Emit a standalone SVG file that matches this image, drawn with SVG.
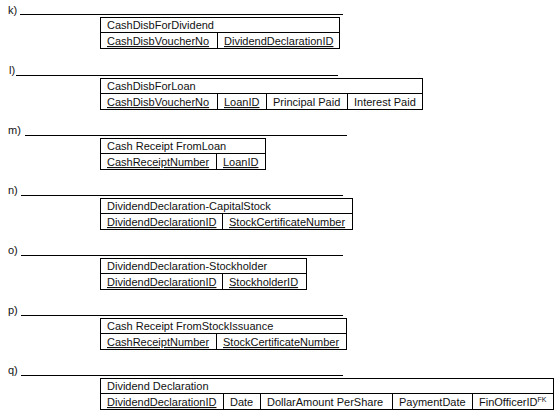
<svg xmlns="http://www.w3.org/2000/svg" width="560" height="419" viewBox="0 0 560 419">
<style>
text{font-family:"Liberation Sans",Arial,sans-serif;font-size:11px;fill:#111}
.lbl{font-size:11px}
.u{text-decoration:underline}
.box{fill:none;stroke:#000;stroke-width:1}
.ln{stroke:#000;stroke-width:1}
.sup{font-size:7px}
</style>
<rect width="560" height="419" fill="#fff"/>
<g id="connectors"></g>

<g id="k">
<text class="lbl" x="8" y="14">k)</text>
<line class="ln" x1="20" y1="14.5" x2="343" y2="14.5"/>
<rect class="box" x="100.5" y="17.5" width="239" height="31"/>
<line class="ln" x1="100.5" y1="32.5" x2="339.5" y2="32.5"/>
<line class="ln" x1="217.5" y1="32.5" x2="217.5" y2="48.5"/>
<text x="107" y="29">CashDisbForDividend</text>
<text class="u" x="107" y="45">CashDisbVoucherNo</text>
<text class="u" x="224" y="45">DividendDeclarationID</text>
</g>

<g id="l">
<text class="lbl" x="9" y="74">l)</text>
<line class="ln" x1="16" y1="75.5" x2="338" y2="75.5"/>
<rect class="box" x="100.5" y="78.5" width="322" height="31"/>
<line class="ln" x1="100.5" y1="93.5" x2="422.5" y2="93.5"/>
<line class="ln" x1="217.5" y1="93.5" x2="217.5" y2="109.5"/>
<line class="ln" x1="266.5" y1="93.5" x2="266.5" y2="109.5"/>
<line class="ln" x1="347.5" y1="93.5" x2="347.5" y2="109.5"/>
<text x="107" y="90">CashDisbForLoan</text>
<text class="u" x="107" y="106">CashDisbVoucherNo</text>
<text class="u" x="224" y="106">LoanID</text>
<text x="273" y="106">Principal Paid</text>
<text x="354" y="106">Interest Paid</text>
</g>

<g id="m">
<text class="lbl" x="8" y="134">m)</text>
<line class="ln" x1="25" y1="135.5" x2="347" y2="135.5"/>
<rect class="box" x="100.5" y="138.5" width="165" height="31"/>
<line class="ln" x1="100.5" y1="153.5" x2="265.5" y2="153.5"/>
<line class="ln" x1="216.5" y1="153.5" x2="216.5" y2="169.5"/>
<text x="107" y="150">Cash Receipt FromLoan</text>
<text class="u" x="107" y="166">CashReceiptNumber</text>
<text class="u" x="223" y="166">LoanID</text>
</g>

<g id="n">
<text class="lbl" x="8" y="194">n)</text>
<line class="ln" x1="21" y1="195.5" x2="343" y2="195.5"/>
<rect class="box" x="100.5" y="198.5" width="252" height="31"/>
<line class="ln" x1="100.5" y1="213.5" x2="352.5" y2="213.5"/>
<line class="ln" x1="222.5" y1="213.5" x2="222.5" y2="229.5"/>
<text x="107" y="210">DividendDeclaration-CapitalStock</text>
<text class="u" x="107" y="226">DividendDeclarationID</text>
<text class="u" x="229" y="226">StockCertificateNumber</text>
</g>

<g id="o">
<text class="lbl" x="8" y="254">o)</text>
<line class="ln" x1="21" y1="255.5" x2="343" y2="255.5"/>
<rect class="box" x="100.5" y="258.5" width="206" height="31"/>
<line class="ln" x1="100.5" y1="273.5" x2="306.5" y2="273.5"/>
<line class="ln" x1="222.5" y1="273.5" x2="222.5" y2="289.5"/>
<text x="107" y="270">DividendDeclaration-Stockholder</text>
<text class="u" x="107" y="286">DividendDeclarationID</text>
<text class="u" x="229" y="286">StockholderID</text>
</g>

<g id="p">
<text class="lbl" x="8" y="314">p)</text>
<line class="ln" x1="21" y1="315.5" x2="343" y2="315.5"/>
<rect class="box" x="100.5" y="318.5" width="246" height="31"/>
<line class="ln" x1="100.5" y1="333.5" x2="346.5" y2="333.5"/>
<line class="ln" x1="216.5" y1="333.5" x2="216.5" y2="349.5"/>
<text x="107" y="330">Cash Receipt FromStockIssuance</text>
<text class="u" x="107" y="346">CashReceiptNumber</text>
<text class="u" x="223" y="346">StockCertificateNumber</text>
</g>

<g id="q">
<text class="lbl" x="8" y="374">q)</text>
<line class="ln" x1="21" y1="375.5" x2="343" y2="375.5"/>
<rect class="box" x="100.5" y="378.5" width="453" height="31"/>
<line class="ln" x1="100.5" y1="393.5" x2="553.5" y2="393.5"/>
<line class="ln" x1="223.5" y1="393.5" x2="223.5" y2="409.5"/>
<line class="ln" x1="260.5" y1="393.5" x2="260.5" y2="409.5"/>
<line class="ln" x1="392.5" y1="393.5" x2="392.5" y2="409.5"/>
<line class="ln" x1="472.5" y1="393.5" x2="472.5" y2="409.5"/>
<text x="107" y="390">Dividend Declaration</text>
<text class="u" x="107" y="406">DividendDeclarationID</text>
<text x="230" y="406">Date</text>
<text x="267" y="406">DollarAmount PerShare</text>
<text x="399" y="406">PaymentDate</text>
<text x="479" y="406">FinOfficerID<tspan class="sup" dy="-4">FK</tspan></text>
</g>
</svg>
